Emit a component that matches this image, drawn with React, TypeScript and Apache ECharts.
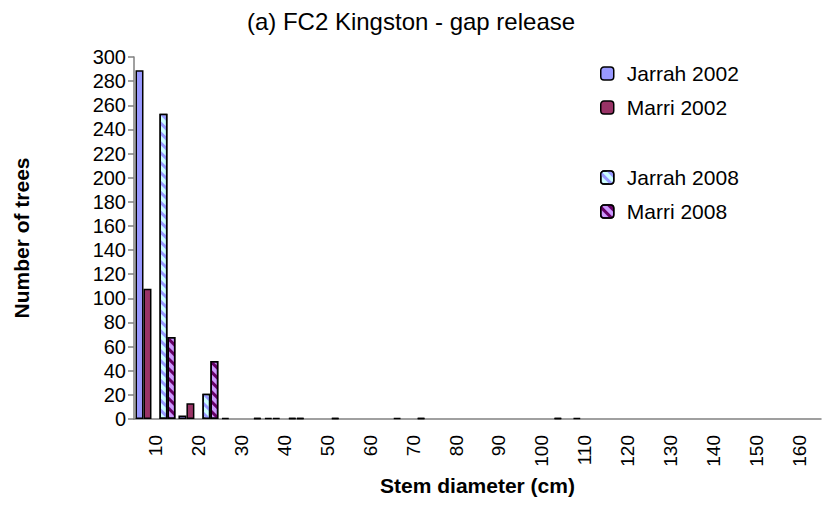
import React, { useEffect, useRef } from 'react';
import * as echarts from 'echarts';

const categories = ['10', '20', '30', '40', '50', '60', '70', '80', '90', '100', '110', '120', '130', '140', '150', '160'];
const jarrah2002 = [289, 3, 1, 1, 0, 0, 1, 0, 0, 0, 0, 0, 0, 0, 0, 0];
const marri2002 = [108, 13, 0, 1, 0, 0, 0, 0, 0, 0, 1, 0, 0, 0, 0, 0];
const jarrah2008 = [253, 21, 0, 1, 1, 0, 1, 0, 0, 0, 0, 0, 0, 0, 0, 0];
const marri2008 = [68, 48, 1, 1, 0, 0, 0, 0, 0, 1, 0, 0, 0, 0, 0, 0];
const yMin = 0;
const yMax = 300;
const yStep = 20;

const FONT = '"Liberation Sans", Arial, sans-serif';

const nz = (arr: number[]) => arr.map((v) => (v === 0 ? null : v));

export default function App() {
  const ref = useRef<HTMLDivElement>(null);
  useEffect(() => {
    document.body.style.margin = '0';
    if (!ref.current) return;
    const chart = echarts.init(ref.current, null, { renderer: 'svg' });
    const barBase = {
      type: 'bar',
      barGap: '0%',
      barCategoryGap: '7%',
      itemStyle: { borderColor: '#000', borderWidth: 1.5 },
    };
    const legendBase = {
      orient: 'vertical',
      left: 595,
      itemWidth: 13,
      itemHeight: 13,
      itemGap: 13,
      formatter: (n: string) => `{t|${n}}`,
      textStyle: {
        fontFamily: FONT,
        fontSize: 21,
        color: '#000',
        rich: { t: { fontFamily: FONT, fontSize: 21, color: '#000', padding: [0, 0, 0, 8] } },
      },
      itemStyle: { borderColor: '#000', borderWidth: 1.5 },
    };
    chart.setOption({
      animation: false,
      title: {
        text: '(a) FC2 Kingston - gap release',
        left: 'center',
        top: 4,
        textStyle: { fontFamily: FONT, fontSize: 24, fontWeight: 'normal', color: '#000' },
      },
      legend: [
        { ...legendBase, top: 58, data: ['Jarrah 2002', 'Marri 2002'] },
        { ...legendBase, top: 162, data: ['Jarrah 2008', 'Marri 2008'] },
      ],
      grid: { left: 134, top: 57, width: 687, height: 362 },
      xAxis: {
        type: 'category',
        data: categories,
        axisLine: { lineStyle: { color: '#808080', width: 1.5 } },
        axisTick: { length: 6, lineStyle: { color: '#808080', width: 1.5 } },
        axisLabel: { rotate: 90, margin: 16, fontSize: 19, color: '#000', fontFamily: FONT },
        name: 'Stem diameter (cm)',
        nameLocation: 'middle',
        nameGap: 56,
        nameTextStyle: { fontFamily: FONT, fontSize: 21, fontWeight: 'bold', color: '#000' },
      },
      yAxis: {
        type: 'value',
        min: yMin,
        max: yMax,
        interval: yStep,
        axisLine: { show: true, lineStyle: { color: '#808080', width: 1.5 } },
        axisTick: { show: true, length: 6, lineStyle: { color: '#808080', width: 1.5 } },
        splitLine: { show: false },
        axisLabel: { margin: 8, fontSize: 20, color: '#000', fontFamily: FONT },
        name: 'Number of trees',
        nameLocation: 'middle',
        nameGap: 102,
        nameTextStyle: { fontFamily: FONT, fontSize: 21, fontWeight: 'bold', color: '#000' },
      },
      series: [
        { ...barBase, name: 'Jarrah 2002', data: nz(jarrah2002), itemStyle: { ...barBase.itemStyle, color: '#9999FF' } },
        { ...barBase, name: 'Marri 2002', data: nz(marri2002), itemStyle: { ...barBase.itemStyle, color: '#993366' } },
        { ...barBase, name: 'blank', data: [] },
        {
          ...barBase,
          name: 'Jarrah 2008',
          data: nz(jarrah2008),
          itemStyle: {
            ...barBase.itemStyle,
            color: '#CCFFFF',
            decal: { color: '#9999FF', dashArrayX: [1, 0], dashArrayY: [3, 4], rotation: Math.PI / 4, symbolSize: 1 },
          },
        },
        {
          ...barBase,
          name: 'Marri 2008',
          data: nz(marri2008),
          itemStyle: {
            ...barBase.itemStyle,
            color: '#CC99FF',
            decal: { color: '#660066', dashArrayX: [1, 0], dashArrayY: [3, 4], rotation: Math.PI / 4, symbolSize: 1 },
          },
        },
      ],
    });
    return () => chart.dispose();
  }, []);
  return <div ref={ref} style={{ width: 822, height: 523 }} />;
}
